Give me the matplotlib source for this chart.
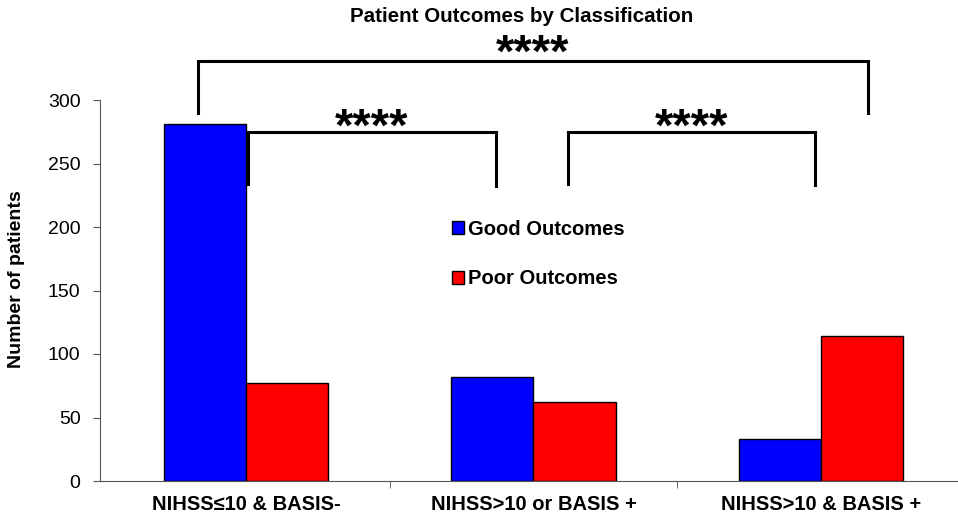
import matplotlib
matplotlib.use("Agg")
import matplotlib.pyplot as plt
import numpy as np

plt.rcParams['font.family'] = ['Liberation Sans', 'DejaVu Sans']

categories = ["NIHSS≤10 & BASIS-", "NIHSS>10 or BASIS +", "NIHSS>10 & BASIS +"]
good = [281, 82, 33]
poor = [77, 62, 114]
series_labels = ["Good Outcomes", "Poor Outcomes"]
y_ticks = [0, 50, 100, 150, 200, 250, 300]

fig = plt.figure(figsize=(9.58, 5.18), dpi=100)
ax = fig.add_axes([100/958, 37/518, 858/958, 381/518])

x = np.arange(len(categories))
w = 0.286
ax.bar(x - w/2, good, width=w, color='#0000FF', edgecolor='black', linewidth=1.0, label=series_labels[0])
ax.bar(x + w/2, poor, width=w, color='#FF0000', edgecolor='black', linewidth=1.0, label=series_labels[1])

ax.set_xlim(-0.508, 2.477)
ax.set_ylim(0, 300)
ax.set_yticks(y_ticks)
ax.set_yticklabels([str(t) for t in y_ticks], fontsize=14)
ax.set_xticks(x)
ax.set_xticklabels(categories, fontsize=14.5, fontweight='bold')
ax.tick_params(axis='x', length=0, pad=10)
ax.set_xticks([0.5, 1.5], minor=True)
ax.tick_params(axis='x', which='minor', length=5, direction='out', color='#555555')
ax.tick_params(axis='y', length=5, direction='out', color='#555555', pad=9)
for s in ['top', 'right']:
    ax.spines[s].set_visible(False)
ax.spines['left'].set_color('#555555')
ax.spines['bottom'].set_color('#555555')
ax.set_ylabel("Number of patients", fontsize=14, fontweight='bold')
ax.yaxis.set_label_coords(-0.0874, 0.53)

fig.text(522/958, 1 - 17/518, "Patient Outcomes by Classification", ha='center', va='center',
         fontsize=14.8, fontweight='bold')

def bracket(x0, x1, y, y0, y1, label, ly):
    ax.plot([x0, x0, x1, x1], [y0, y, y, y1], color='black', lw=2.2, clip_on=False, solid_joinstyle='miter')
    ax.text((x0 + x1) / 2, ly, label, ha='center', va='baseline', fontsize=34, fontweight='bold', clip_on=False)

bracket(-0.167, 2.163, 331, 290, 290, "****", 326)
bracket(0.007, 0.870, 275, 234, 232, "****", 268)
bracket(1.12, 1.98, 275, 234, 233, "****", 268)

leg = fig.legend(loc='center left', bbox_to_anchor=(452/958, 1 - 254/518), frameon=False,
                 prop={'size': 14.5, 'weight': 'bold'}, handlelength=0.6, handleheight=0.6,
                 handletextpad=0.2, labelspacing=1.52, borderpad=0, borderaxespad=0)

fig.savefig("out.png", dpi=100)
